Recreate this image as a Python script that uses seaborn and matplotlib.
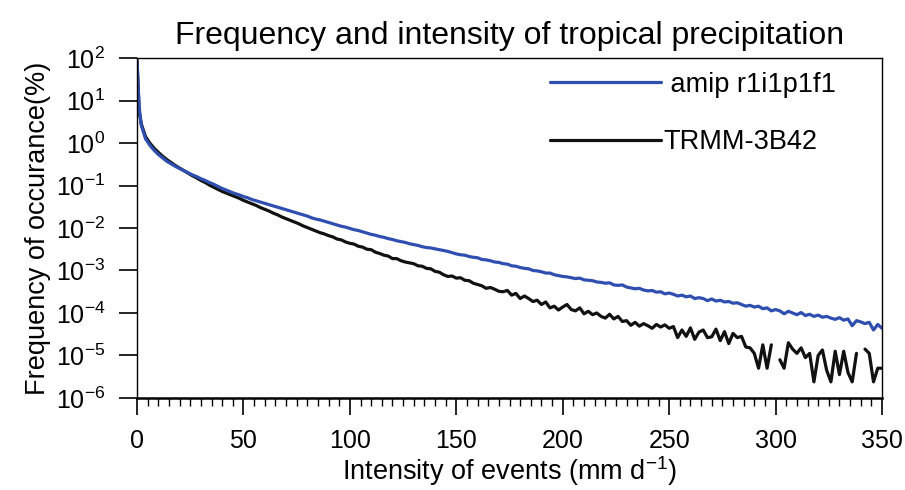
import numpy as np
import pandas as pd
import matplotlib
matplotlib.use('Agg')
import matplotlib.pyplot as plt
import seaborn as sns
from matplotlib.lines import Line2D
from matplotlib.ticker import MultipleLocator, NullLocator, FixedLocator

# ---- Datos (log10 de la frecuencia en %) ----
intensity = [0, 1] + list(range(2, 351, 2))

amip_log = [
    1.93, 0.85, 0.42, 0.10, -0.05, -0.17, -0.27, -0.35, -0.43, -0.49, -0.55, -0.60,
    -0.65, -0.70, -0.75, -0.79, -0.84, -0.88, -0.93, -0.97, -1.02, -1.07,
    -1.11, -1.15, -1.19, -1.22, -1.26, -1.29, -1.33, -1.36, -1.39, -1.42,
    -1.45, -1.48, -1.51, -1.54, -1.57, -1.60, -1.63, -1.66, -1.69, -1.72,
    -1.76, -1.79, -1.81, -1.84, -1.87, -1.90, -1.93, -1.96, -1.98, -2.01,
    -2.04, -2.06, -2.09, -2.12, -2.15, -2.17, -2.20, -2.22, -2.25, -2.27,
    -2.30, -2.32, -2.34, -2.37, -2.39, -2.41, -2.44, -2.46, -2.47, -2.49,
    -2.51, -2.53, -2.55, -2.58, -2.61, -2.63, -2.64, -2.67, -2.69, -2.70,
    -2.74, -2.75, -2.77, -2.80, -2.81, -2.84, -2.85, -2.89, -2.90, -2.93,
    -2.95, -2.96, -3.00, -3.01, -3.03, -3.06, -3.06, -3.10, -3.12, -3.14,
    -3.15, -3.17, -3.19, -3.18, -3.22, -3.23, -3.24, -3.27, -3.28, -3.30,
    -3.29, -3.34, -3.35, -3.34, -3.39, -3.41, -3.43, -3.42, -3.46, -3.48,
    -3.47, -3.51, -3.50, -3.55, -3.53, -3.56, -3.60, -3.58, -3.62, -3.60,
    -3.66, -3.64, -3.66, -3.71, -3.67, -3.72, -3.70, -3.74, -3.73, -3.77,
    -3.76, -3.80, -3.84, -3.82, -3.86, -3.84, -3.90, -3.88, -3.95, -3.92,
    -3.95, -4.02, -3.96, -4.00, -4.04, -3.99, -4.06, -4.03, -4.08, -4.05,
    -4.10, -4.08, -4.12, -4.15, -4.11, -4.17, -4.14, -4.30, -4.18, -4.21,
    -4.25, -4.22, -4.40, -4.27, -4.36,
]

trmm_log = [
    1.95, 0.75, 0.45, 0.15, 0.00, -0.12, -0.22, -0.31, -0.39, -0.46, -0.53, -0.59,
    -0.65, -0.71, -0.77, -0.82, -0.88, -0.93, -0.99, -1.04, -1.09, -1.14,
    -1.18, -1.22, -1.26, -1.30, -1.35, -1.39, -1.43, -1.47, -1.52, -1.56,
    -1.60, -1.65, -1.69, -1.74, -1.78, -1.82, -1.86, -1.90, -1.95, -1.99,
    -2.03, -2.07, -2.11, -2.14, -2.18, -2.21, -2.26, -2.28, -2.33, -2.36,
    -2.38, -2.43, -2.45, -2.50, -2.51, -2.57, -2.60, -2.64, -2.66, -2.72,
    -2.72, -2.77, -2.80, -2.82, -2.84, -2.89, -2.90, -2.95, -2.96, -3.02,
    -3.04, -3.10, -3.14, -3.13, -3.18, -3.17, -3.23, -3.24, -3.30, -3.33,
    -3.36, -3.42, -3.40, -3.44, -3.49, -3.50, -3.47, -3.58, -3.54, -3.66,
    -3.60, -3.66, -3.73, -3.70, -3.80, -3.74, -3.88, -3.84, -3.93, -3.86,
    -3.80, -3.92, -3.95, -3.88, -4.02, -3.96, -4.04, -4.00, -4.08, -4.12,
    -4.03, -4.14, -4.08, -4.20, -4.18, -4.29, -4.22, -4.31, -4.25, -4.30,
    -4.36, -4.27, -4.33, -4.28, -4.36, -4.32, -4.58, -4.40, -4.55, -4.35,
    -4.62, -4.45, -4.40, -4.58, -4.56, -4.38, -4.65, -4.44, -4.72, -4.48,
    -4.58, -4.55, -4.80, -4.82, -4.95, -5.30, -4.75, -5.30, -4.75, np.nan,
    -5.10, -5.30, -4.70, -4.85, -4.95, -4.82, -5.05, -4.95, -5.62, -5.00,
    -4.87, -5.35, -5.62, -4.90, -5.45, -4.90, -5.40, -5.62, -4.95, np.nan,
    -4.85, -4.95, -5.62, -5.30, -5.30,
]

series_names = ['amip r1i1p1f1', 'TRMM-3B42']
series_colors = ['#2f4fb0', '#111111']

# ---- Tabla larga para seaborn (los huecos NaN separan segmentos) ----
frames = []
for name, vals in zip(series_names, [amip_log, trmm_log]):
    d = pd.DataFrame({'x': intensity, 'logf': vals})
    d['seg'] = d['logf'].isna().cumsum()
    d = d.dropna()
    d['freq'] = 10 ** d['logf']
    d['serie'] = name
    d['unit'] = name + '_' + d['seg'].astype(str)
    frames.append(d)
df = pd.concat(frames, ignore_index=True)

sns.set_theme(style='white')
plt.rcParams['font.family'] = ['Liberation Sans', 'DejaVu Sans']
plt.rcParams['axes.unicode_minus'] = False
plt.rcParams['text.color'] = 'black'
plt.rcParams['axes.labelcolor'] = 'black'

fig = plt.figure(figsize=(9.05, 4.9), dpi=100)
ax = fig.add_axes([0.1514, 0.1878, 0.8232, 0.6938])

sns.lineplot(data=df, x='x', y='freq', hue='serie', units='unit', estimator=None,
             hue_order=['TRMM-3B42', 'amip r1i1p1f1'],
             palette={'amip r1i1p1f1': series_colors[0], 'TRMM-3B42': series_colors[1]},
             linewidth=2.3, sort=False, legend=False, ax=ax)

ax.set_yscale('log')
ax.set_ylim(1e-6, 1e2)
ax.set_xlim(0, 350)
ax.yaxis.set_major_locator(FixedLocator([10.0 ** k for k in range(-6, 3)]))
ax.yaxis.set_minor_locator(NullLocator())
ax.xaxis.set_major_locator(MultipleLocator(50))
ax.xaxis.set_minor_locator(MultipleLocator(5))

for side in ['left', 'top', 'right']:
    ax.spines[side].set_linewidth(1.0)
    ax.spines[side].set_color('black')
ax.spines['bottom'].set_linewidth(1.8)
ax.spines['bottom'].set_color('black')

ax.tick_params(axis='y', which='major', direction='out', length=13, width=1.2,
               pad=10, labelsize=18, colors='black', left=True)
ax.tick_params(axis='x', which='major', direction='out', length=12.5, width=1.2,
               pad=10, labelsize=18, colors='black', bottom=True)
ax.tick_params(axis='x', which='minor', direction='out', length=6, width=1.0,
               colors='black', bottom=True)

ax.set_xlabel('Intensity of events (mm d$\\mathregular{^{-1}}$)', fontsize=19.5, labelpad=1)
ax.set_ylabel('Frequency of occurance(%)', fontsize=19.5, labelpad=3)
ax.set_title('Frequency and intensity of tropical precipitation', fontsize=23, pad=10)

handles = [Line2D([], [], color=c, lw=2.3) for c in series_colors]
ax.legend(handles, [' ' + series_names[0], series_names[1]], loc='upper left',
          bbox_to_anchor=(0.554, 0.96), frameon=False, fontsize=19.5,
          handlelength=4.1, handletextpad=0.1, labelspacing=1.17,
          borderpad=0, borderaxespad=0)

plt.savefig('out.png', dpi=100)
plt.close()
